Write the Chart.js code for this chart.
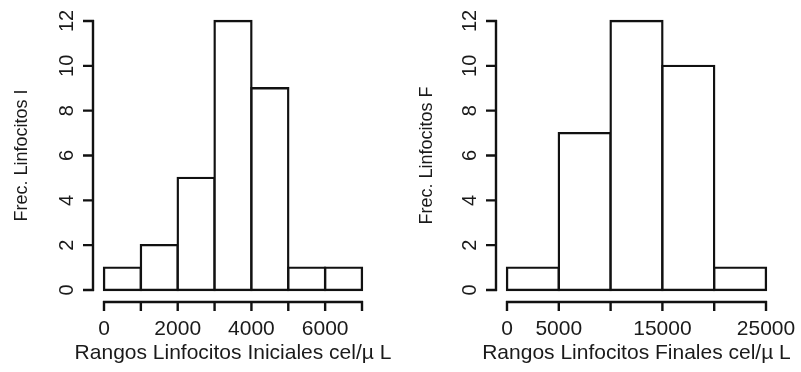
<!DOCTYPE html>
<html>
<head>
<meta charset="utf-8">
<script src="https://cdn.jsdelivr.net/npm/chart.js@4/dist/chart.umd.min.js"></script>
<style>
  html, body { margin: 0; padding: 0; background: #fff; }
  #wrap { position: relative; width: 801px; height: 372px; }
  canvas { position: absolute; top: 0; }
</style>
</head>
<body>
<div id="wrap">
  <canvas id="histIni" width="400" height="372" style="left:0"></canvas>
  <canvas id="histFin" width="401" height="372" style="left:400px"></canvas>
</div>
<script>
// histogram 1: linfocitos iniciales
const iniBinStarts = [0, 1000, 2000, 3000, 4000, 5000, 6000];
const iniCounts = [1, 2, 5, 12, 9, 1, 1];
const iniBinWidth = 1000;
const iniXLabels = [0, 2000, 4000, 6000];

// histogram 2: linfocitos finales
const finBinStarts = [0, 5000, 10000, 15000, 20000];
const finCounts = [1, 7, 12, 10, 1];
const finBinWidth = 5000;
const finXLabels = [0, 5000, 15000, 25000];

const yLabels = [0, 2, 4, 6, 8, 10, 12];

const FONT = '"Liberation Sans", Arial, Helvetica, sans-serif';
const LW = 2.4;

// R style axes: detached x axis, y axis only over the tick range
const rAxes = {
  id: 'rAxes',
  afterDraw(chart, args, opts) {
    const { ctx } = chart;
    const x = chart.scales.x, y = chart.scales.y;
    const yAxisX = x.left - 11;
    const xAxisY = y.bottom + 12;
    ctx.save();
    ctx.strokeStyle = '#111';
    ctx.fillStyle = '#1a1a1a';
    ctx.lineWidth = LW;
    ctx.lineCap = 'butt';

    // x axis
    ctx.beginPath();
    ctx.moveTo(x.getPixelForValue(x.min) - 1, xAxisY);
    ctx.lineTo(x.getPixelForValue(x.max) + 1, xAxisY);
    x.ticks.forEach(t => {
      const px = x.getPixelForValue(t.value);
      ctx.moveTo(px, xAxisY - 1);
      ctx.lineTo(px, xAxisY + 9);
    });
    ctx.stroke();
    ctx.font = '21px ' + FONT;
    ctx.textAlign = 'center';
    ctx.textBaseline = 'middle';
    opts.xLabels.forEach(v => ctx.fillText(String(v), x.getPixelForValue(v), xAxisY + 27));
    ctx.fillText(opts.xTitle, (x.left + x.right) / 2, xAxisY + 51);

    // y axis
    ctx.beginPath();
    ctx.moveTo(yAxisX, y.getPixelForValue(y.min) + 1);
    ctx.lineTo(yAxisX, y.getPixelForValue(y.max) - 1);
    y.ticks.forEach(t => {
      const py = y.getPixelForValue(t.value);
      ctx.moveTo(yAxisX + 1, py);
      ctx.lineTo(yAxisX - 10, py);
    });
    ctx.stroke();
    ctx.font = '20px ' + FONT;
    yLabels.forEach(v => {
      ctx.save();
      ctx.translate(yAxisX - 26, y.getPixelForValue(v));
      ctx.rotate(-Math.PI / 2);
      ctx.fillText(String(v), 0, 0);
      ctx.restore();
    });
    ctx.save();
    ctx.font = '18px ' + FONT;
    ctx.translate(opts.yTitleX, (y.top + y.bottom) / 2);
    ctx.rotate(-Math.PI / 2);
    ctx.fillText(opts.yTitle, 0, 0);
    ctx.restore();
    ctx.restore();
  }
};

function makeHist(id, starts, counts, width, xLabels, xTitle, yTitle, yTitleX, padding) {
  const xMax = starts[starts.length - 1] + width;
  return new Chart(document.getElementById(id), {
    type: 'bar',
    data: {
      datasets: [{
        data: starts.map((s, i) => ({ x: s + width / 2, y: counts[i] })),
        backgroundColor: '#fff',
        borderColor: '#111',
        borderWidth: LW,
        borderSkipped: false,
        inflateAmount: LW / 2,
        barPercentage: 1,
        categoryPercentage: 1,
        clip: false
      }]
    },
    options: {
      responsive: false,
      animation: false,
      layout: { padding },
      plugins: {
        legend: { display: false },
        tooltip: { enabled: false },
        rAxes: { xLabels, xTitle, yTitle, yTitleX }
      },
      scales: {
        x: { type: 'linear', display: false, offset: false, min: 0, max: xMax, ticks: { stepSize: width } },
        y: { display: false, min: 0, max: 12, ticks: { stepSize: 2 } }
      }
    },
    plugins: [rAxes]
  });
}

makeHist('histIni', iniBinStarts, iniCounts, iniBinWidth, iniXLabels,
  'Rangos Linfocitos Iniciales cel/\u00b5 L', 'Frec. Linfocitos I', 22,
  { left: 104, right: 38, top: 21, bottom: 82 });
makeHist('histFin', finBinStarts, finCounts, finBinWidth, finXLabels,
  'Rangos Linfocitos Finales cel/\u00b5 L', 'Frec. Linfocitos F', 27,
  { left: 107, right: 35, top: 21, bottom: 82 });
</script>
</body>
</html>
